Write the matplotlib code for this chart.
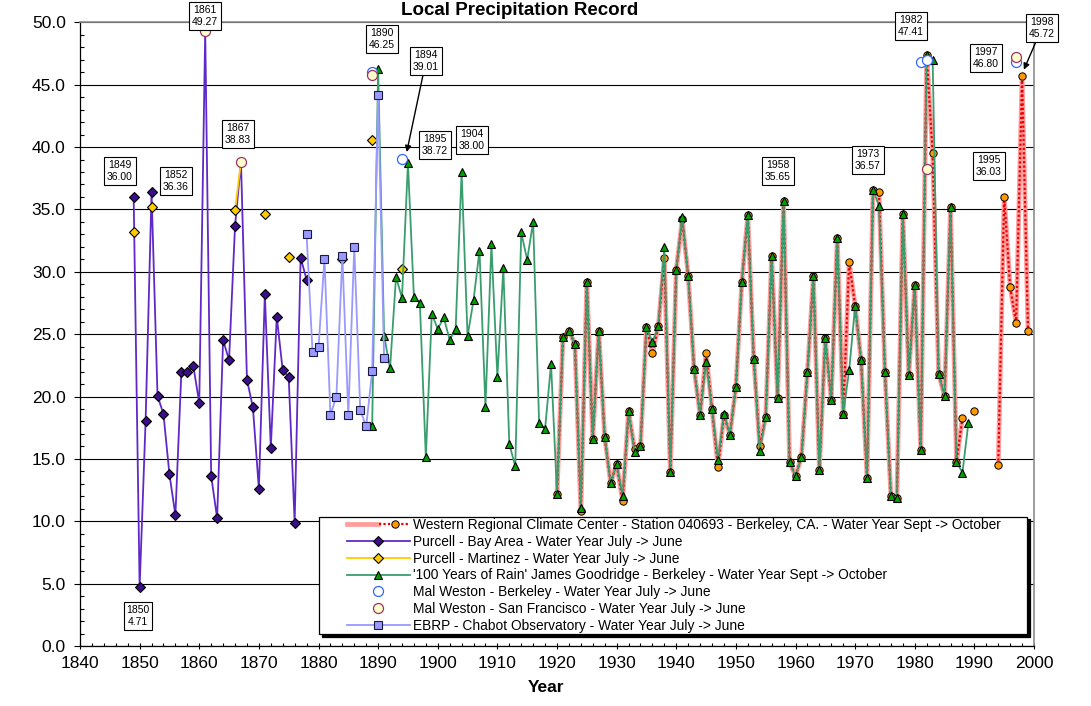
import numpy as np
import pandas as pd
import matplotlib
matplotlib.use('Agg')
import matplotlib.pyplot as plt
from matplotlib.legend_handler import HandlerLine2D, HandlerTuple
from matplotlib.ticker import MultipleLocator, FormatStrFormatter

plt.rcParams['font.family'] = ['Liberation Sans', 'DejaVu Sans']

# Western Regional Climate Center - station 040693 (Berkeley)
wrcc_years = list(range(1920, 1989)) + [1990] + list(range(1994, 2000))
wrcc_vals = [12.2, 24.76, 25.29, 24.2, 10.86, 29.22, 16.6, 25.29, 16.74, 13.05,
             14.6, 11.66, 18.8, 15.8, 16.07, 25.56, 23.48, 25.64, 31.12, 13.93,
             30.16, 34.2, 29.7, 22.2, 18.53, 23.48, 19.0, 14.35, 18.5, 16.95,
             20.75, 29.2, 34.55, 23.04, 16.0, 18.37, 31.3, 19.92, 35.65, 14.77,
             13.6, 15.18, 21.95, 29.67, 14.1, 24.66, 19.7, 32.71, 18.62, 30.76,
             27.29, 22.9, 13.5, 36.57, 36.37, 21.95, 12.0, 11.86, 34.6, 21.76,
             28.92, 15.72, 47.41, 39.5, 21.84, 20.03, 35.16, 14.77, 18.29,
             18.8,
             14.5, 36.03, 28.78, 25.88, 45.72, 25.25]

# Purcell - Bay Area
bay_years = list(range(1849, 1879))
bay_vals = [36.0, 4.71, 18.0, 36.36, 20.07, 18.58, 13.76, 10.49, 21.96, 21.96,
            22.46, 19.49, 49.27, 13.63, 10.25, 24.52, 22.93, 33.66, 38.83, 21.35,
            19.12, 12.58, 28.2, 15.89, 26.4, 22.09, 21.58, 9.88, 31.13, 29.38]

# Purcell - Martinez
mart_years = [1849, 1852, 1866, 1867, 1871, 1875, 1884, 1889, 1894]
mart_vals = [33.15, 35.18, 34.94, 38.83, 34.67, 31.2, 31.0, 40.6, 30.2]

# '100 Years of Rain' James Goodridge
rain_years = list(range(1889, 1990))
rain_vals = [17.64, 46.25, 24.89, 22.26, 29.6, 27.9, 38.72, 28.0, 27.5, 15.14,
             26.64, 25.4, 26.34, 24.55, 25.4, 38.0, 24.82, 27.72, 31.7, 19.19,
             32.2, 21.58, 30.29, 16.2, 14.4, 33.15, 30.96, 34.03, 17.87, 17.4,
             22.6, 12.19, 24.76, 25.29, 24.2, 11.07, 29.22, 16.6, 25.29, 16.74,
             13.05, 14.6, 12.0, 18.8, 15.54, 16.07, 25.56, 24.36, 25.64, 31.98,
             13.93, 30.16, 34.39, 29.7, 22.2, 18.53, 22.8, 19.0, 14.9, 18.6,
             16.95, 20.75, 29.2, 34.55, 23.04, 15.64, 18.37, 31.3, 19.92, 35.65,
             14.77, 13.6, 15.18, 21.95, 29.67, 14.1, 24.66, 19.7, 32.71, 18.62,
             22.09, 27.29, 22.9, 13.5, 36.57, 35.3, 21.95, 12.0, 11.86, 34.6,
             21.76, 28.92, 15.72, 47.41, 47.0, 21.84, 20.03, 35.16, 14.77, 13.9,
             17.9]

# Mal Weston
westb_years = [1889, 1894, 1981, 1982, 1997]
westb_vals = [46.0, 39.01, 46.78, 47.0, 46.80]
wests_years = [1861, 1867, 1889, 1982, 1997]
wests_vals = [49.27, 38.83, 45.8, 38.2, 47.2]

# EBRP - Chabot Observatory
ebrp_years = list(range(1878, 1892))
ebrp_vals = [33.05, 23.54, 23.95, 31.03, 18.52, 20.0, 31.3, 18.52, 32.0, 18.92,
             17.6, 22.02, 44.18, 23.1]

# labelled values
note_years = [1849, 1850, 1852, 1861, 1867, 1890, 1894, 1895, 1904, 1958, 1973, 1982, 1995, 1997, 1998]
note_vals = [36.00, 4.71, 36.36, 49.27, 38.83, 46.25, 39.01, 38.72, 38.00, 35.65, 36.57, 47.41, 36.03, 46.80, 45.72]
note_bx = [1846.71, 1849.73, 1856.1, 1860.96, 1866.5, 1890.65, 1898.03, 1899.54, 1905.74,
           1957.06, 1972.16, 1979.37, 1992.45, 1991.95, 2001.34]
note_by = [38.09, 2.41, 37.29, 50.5, 41.06, 48.68, 46.91, 40.18, 40.58,
           38.09, 38.97, 49.72, 38.49, 47.15, 49.56]
note_arrow = {1894: (1894.8, 39.6), 1998: (1998.3, 46.2)}


def on_grid(years, vals):
    # reindex onto every year so missing years break the line
    s = pd.Series(vals, index=years, dtype=float)
    return s.reindex(range(min(years), max(years) + 1))


wrcc = on_grid(wrcc_years, wrcc_vals)
bay = on_grid(bay_years, bay_vals)
mart = on_grid(mart_years, mart_vals)
rain = on_grid(rain_years, rain_vals)
ebrp = on_grid(ebrp_years, ebrp_vals)

fig = plt.figure(figsize=(10.91, 7.06), dpi=100)
ax = fig.add_axes([80 / 1091, 60 / 706, 954 / 1091, 623.7 / 706])

pink, = ax.plot(wrcc.index, wrcc.values, color='#ff9c9c', lw=3.4, zorder=2)
red, = ax.plot(wrcc.index, wrcc.values, color='#ee0000', lw=1.6, ls=(0, (1, 1)),
               marker='o', ms=5.3, mfc='#ff9900', mec='black', mew=0.7, zorder=2)
l_bay, = ax.plot(bay.index, bay.values, color='#5f29c7', lw=1.3, marker='D', ms=4.6,
                 mfc='#3b0f87', mec='black', mew=0.8, zorder=3)
l_mart, = ax.plot(mart.index, mart.values, color='#ffcc00', lw=1.3, marker='D', ms=4.6,
                  mfc='#ffcc00', mec='black', mew=0.8, zorder=4)
l_rain, = ax.plot(rain.index, rain.values, color='#3a9d6e', lw=1.3, marker='^', ms=5.5,
                  mfc='#00a000', mec='black', mew=0.8, zorder=5)
l_wb, = ax.plot(westb_years, westb_vals, ls='none', marker='o', ms=7.2,
                mfc='white', mec='#3366ff', mew=0.9, zorder=6)
l_ws, = ax.plot(wests_years, wests_vals, ls='none', marker='o', ms=7.2,
                mfc='#ffffcc', mec='#993366', mew=0.9, zorder=7)
l_eb, = ax.plot(ebrp.index, ebrp.values, color='#9999ff', lw=1.3, marker='s', ms=6,
                mfc='#9999ff', mec='#1a1a40', mew=0.8, zorder=8)

ax.set_xlim(1840, 2000)
ax.set_ylim(0, 50)
ax.xaxis.set_major_locator(MultipleLocator(10))
ax.xaxis.set_minor_locator(MultipleLocator(2))
ax.yaxis.set_major_locator(MultipleLocator(5))
ax.yaxis.set_minor_locator(MultipleLocator(1))
ax.yaxis.set_major_formatter(FormatStrFormatter('%.1f'))
ax.set_axisbelow(True)
ax.grid(axis='y', which='major', color='black', lw=0.8)

ax.tick_params(axis='y', which='major', direction='out', length=4.3, width=0.8, labelsize=12.5, pad=6)
ax.tick_params(axis='y', which='minor', direction='in', length=3, width=0.8)
ax.tick_params(axis='x', which='major', direction='inout', length=5, width=0.8, labelsize=12.5, pad=5)
ax.tick_params(axis='x', which='minor', direction='in', length=2.5, width=0.8)
for side in ['left', 'bottom']:
    ax.spines[side].set_color('black')
    ax.spines[side].set_linewidth(0.9)
for side in ['top', 'right']:
    ax.spines[side].set_color('#8c8c8c')
    ax.spines[side].set_linewidth(1.2)

fig.text(520 / 1091, 1 - 15 / 706, 'Local Precipitation Record', ha='center', va='baseline',
         fontsize=13.5, weight='bold')
fig.text(546 / 1091, 1 - 687 / 706, 'Year', ha='center', va='center', fontsize=12.5, weight='bold')

for yr, val, bx, by in zip(note_years, note_vals, note_bx, note_by):
    box = dict(boxstyle='square,pad=0.25', fc='white', ec='black', lw=0.8)
    if yr in note_arrow:
        ax.annotate(f'{yr}\n{val:.2f}', xy=note_arrow[yr], xytext=(bx, by), ha='center', va='center',
                    fontsize=7.5, linespacing=1.3, bbox=box, zorder=12, annotation_clip=False,
                    arrowprops=dict(arrowstyle='-|>', color='black', lw=1, mutation_scale=9,
                                    shrinkA=0, shrinkB=0))
    else:
        ax.text(bx, by, f'{yr}\n{val:.2f}', ha='center', va='center', fontsize=7.5,
                linespacing=1.3, bbox=box, zorder=12)

handles = [(pink, red), l_bay, l_mart, l_rain, l_wb, l_ws, l_eb]
labels = ['Western Regional Climate Center - Station 040693 - Berkeley, CA. - Water Year Sept -> October',
          'Purcell - Bay Area - Water Year July -> June',
          'Purcell - Martinez - Water Year July -> June',
          "'100 Years of Rain' James Goodridge - Berkeley - Water Year Sept -> October",
          'Mal Weston - Berkeley - Water Year July -> June',
          'Mal Weston - San Francisco - Water Year July -> June',
          'EBRP - Chabot Observatory - Water Year July -> June']
xp = 1.9
leg = ax.legend(handles, labels, loc='upper left',
                bbox_to_anchor=(319.3 / 1091, 0.1, 707.7 / 1091, 1 - 516.7 / 706 - 0.1),
                bbox_transform=fig.transFigure, mode='expand', borderaxespad=0,
                fontsize=9.9, handlelength=6.5, handletextpad=0.2, borderpad=0.1,
                labelspacing=0.2, fancybox=False, framealpha=1, edgecolor='black',
                shadow={'facecolor': 'black', 'edgecolor': 'black', 'alpha': 1},
                handler_map={tuple: HandlerTuple(ndivide=None, xpad=xp),
                             matplotlib.lines.Line2D: HandlerLine2D(xpad=xp)})
leg.get_frame().set_linewidth(0.9)
leg.set_zorder(20)

fig.savefig('out.png', dpi=100)
